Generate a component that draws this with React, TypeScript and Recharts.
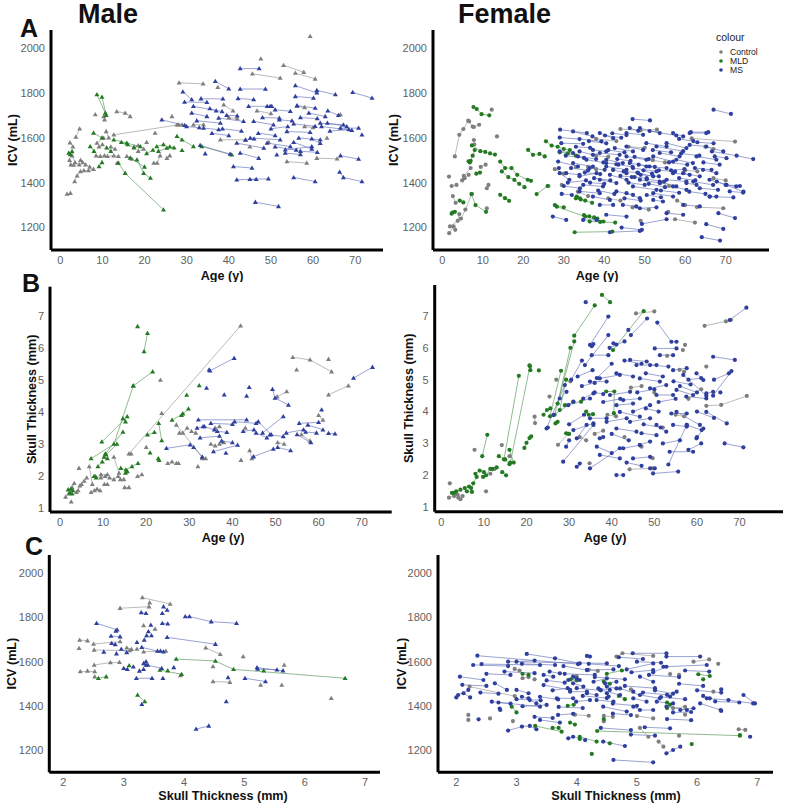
import React from 'react';
import { ComposedChart, Line, XAxis, YAxis } from 'recharts';

// each subject: [x1, y1, x2, y2, ...] – consecutive visits are joined by a line
type Subject = number[];

// ---------- Panel A: age vs ICV ----------
const maleAgeIcvCtrl: Subject[] = [
  [59.3, 2052], [47.6, 1952], [53, 1923, 57.8, 1892], [55.8, 1888, 60.5, 1862], [45.6, 1885, 52.2, 1866],
  [28.2, 1845, 33.9, 1840], [37.4, 1825], [38.8, 1747, 41, 1720], [46.7, 1720, 50, 1708], [26.5, 1695],
  [27.7, 1658, 28.9, 1658], [31.6, 1658, 34, 1658], [38, 1591, 43.9, 1591], [53.8, 1494, 58.5, 1487],
  [60.9, 1509, 65.7, 1506], [66.5, 1703], [63.3, 1599], [56.2, 1740, 58, 1735], [45, 1560], [49.5, 1580],
  [40, 1690, 42, 1685], [58, 1650, 60, 1645],
  [1.6, 1349, 2.4, 1353], [2.3, 1578, 3, 1560], [2.8, 1520, 3.5, 1490, 4.5, 1480], [2.2, 1500, 2.5, 1480, 3.2, 1478],
  [3.4, 1405, 4, 1430, 4.8, 1450], [3.7, 1603, 4.6, 1640], [4.8, 1500, 5.3, 1490], [5.6, 1454, 6.7, 1454, 7.9, 1460],
  [8.5, 1520, 9.5, 1517, 10.5, 1520], [8.7, 1576, 10.3, 1599], [9.2, 1560, 10, 1570], [10.9, 1628, 11.5, 1600],
  [11.2, 1517, 12.7, 1520, 13.8, 1517], [12.7, 1613, 28.1, 1658], [8.3, 1703], [13.4, 1717, 15.4, 1710, 16.6, 1695],
  [10.3, 1695, 10.5, 1680], [13.5, 1487], [15.8, 1517, 17, 1505], [18.5, 1540, 19.8, 1550], [20.5, 1580],
  [22.2, 1487, 23, 1487, 23.7, 1520], [22.5, 1621], [25.3, 1509, 26, 1520], [6, 1480, 7, 1470],
  [12, 1560, 13, 1550], [17.5, 1560, 18.5, 1565],
];
const maleAgeIcvMld: Subject[] = [
  [8.7, 1792, 10.7, 1710], [9.9, 1781, 10.9, 1700], [2, 1532, 2.8, 1539], [2.4, 1525], [7.9, 1621, 9.9, 1600],
  [7.1, 1561, 8, 1540], [9.2, 1472, 9.9, 1490], [12.7, 1591, 15.8, 1576, 19, 1561],
  [13.8, 1487, 15.4, 1442, 24.5, 1279], [18.2, 1502, 19.8, 1442, 21.4, 1420], [16.6, 1510, 20, 1470],
  [22.9, 1561, 24.5, 1570], [23.3, 1540, 25.3, 1554], [27.7, 1606, 28.9, 1591, 31.6, 1561], [28.9, 1544],
  [33.6, 1561, 40.7, 1524], [14.5, 1580, 16, 1570, 17.5, 1555], [11, 1555, 12, 1540], [20.5, 1530, 22, 1545],
  [26, 1560, 27, 1555],
];
const maleAgeIcvMs: Subject[] = [
  [42.7, 1908, 47.2, 1908], [36.8, 1851, 40, 1818], [42.7, 1817, 48.7, 1817], [55.8, 1832, 60.9, 1800],
  [60.9, 1811, 65.3, 1792], [69.4, 1802, 74, 1777], [29.1, 1805, 31.2, 1770], [33.4, 1774, 38.6, 1773],
  [29.5, 1759, 34.8, 1758], [42.2, 1775, 45.9, 1770], [55.8, 1784, 60.1, 1777], [31.2, 1710, 34.8, 1695],
  [49.1, 1740, 50.2, 1740], [31.6, 1740, 38.4, 1717], [56.2, 1743, 60.5, 1732], [44.7, 1740, 49.8, 1740],
  [37.6, 1688, 43.5, 1673], [51, 1725, 54.6, 1718], [59, 1710, 62.9, 1695], [61.7, 1665, 67.2, 1658],
  [63.4, 1665, 68, 1650], [66.5, 1643, 70.8, 1643], [45.9, 1673, 50.6, 1658], [55.4, 1662, 60.5, 1651],
  [32.4, 1676, 38, 1665], [24.1, 1680, 29.5, 1655], [34, 1643, 37.6, 1636], [62, 1650, 69.2, 1633], [71.6, 1613],
  [53.8, 1628, 59.3, 1624], [56.6, 1599, 61.7, 1591], [45.1, 1599, 52.2, 1591], [41.9, 1576, 48.3, 1554],
  [33.2, 1566, 40.3, 1527], [34.4, 1529], [49.1, 1576, 54.6, 1561], [53.4, 1546, 59.7, 1561],
  [42.7, 1532, 47.1, 1509], [55.4, 1580, 59.7, 1550], [59.7, 1595, 61.7, 1575], [41.1, 1472, 45.5, 1465],
  [41.9, 1413, 49.4, 1417], [45, 1415, 46.5, 1415], [55.4, 1423, 60.5, 1405], [66.3, 1447, 67.2, 1423, 71.6, 1405],
  [66.5, 1520, 70.8, 1505], [46.3, 1313, 51.8, 1294], [51.4, 1524], [53.4, 1532, 57, 1525], [47, 1620, 51, 1610],
  [36, 1620, 40, 1610], [30, 1650, 33, 1645], [52, 1680, 55, 1675], [57, 1690, 61, 1685], [48, 1690, 52, 1688],
  [39.5, 1700, 42, 1698], [35.5, 1730, 37, 1720], [63.5, 1720, 66, 1700], [51, 1560, 56, 1545],
  [57, 1540, 61, 1535], [44, 1590, 46, 1595], [38.5, 1640, 43, 1630], [50, 1640, 54, 1650], [64, 1630, 68.5, 1636],
];

const femaleAgeIcvCtrl: Subject[] = [
  [1.7, 1175, 2.8, 1205], [1.9, 1205, 3.8, 1230, 4.2, 1260], [3.1, 1517, 4.2, 1613, 5.2, 1639, 6.4, 1676],
  [7.8, 1648, 9.1, 1658], [6.6, 1673, 7.5, 1650], [12.2, 1725], [1.65, 1427], [2.3, 1385, 3.5, 1390],
  [4.9, 1410, 5.3, 1430, 7, 1465], [13.5, 1606], [11, 1375, 11.4, 1390], [11, 1286], [2.6, 1340, 3.3, 1310],
  [3.2, 1190], [4.6, 1240, 5.7, 1280, 7.3, 1350], [5.5, 1420, 6.5, 1435], [7.8, 1590, 7.9, 1570],
  [9.5, 1470, 10.7, 1480], [26.2, 1385], [27.8, 1460, 30, 1440], [29.5, 1390], [33, 1470],
  [38, 1595, 43, 1585], [44, 1639, 49, 1633, 53, 1636], [57.5, 1237, 62.4, 1222], [61.6, 1597, 72.3, 1583],
  [62.9, 1291, 69.4, 1286], [55.8, 1270], [46, 1560, 50, 1555], [38, 1520, 41, 1515], [54, 1400, 56, 1385],
  [58, 1320, 60, 1300], [47, 1290, 51, 1280], [67, 1420, 70, 1410], [65, 1560, 67, 1550], [36, 1470, 38, 1460],
  [52, 1500, 55, 1490], [41, 1330, 44, 1320], [49, 1230], [33.5, 1360, 36, 1340], [60, 1455, 63, 1450],
];
const femaleAgeIcvMld: Subject[] = [
  [7.7, 1737, 8.5, 1728, 9.7, 1705, 11.6, 1700], [7.3, 1566, 9.4, 1540, 10.6, 1537, 11.8, 1530, 13, 1525],
  [14.3, 1494, 15.5, 1465, 17.1, 1465, 18.5, 1435, 21.1, 1413, 21.9, 1408],
  [14.7, 1450, 16.3, 1425, 17.8, 1412, 19, 1395, 20.3, 1380], [14.3, 1346, 15.5, 1331, 16.5, 1319],
  [7.2, 1349, 8.2, 1300, 10.8, 1270], [2.5, 1267, 3.1, 1270], [7, 1497, 7.5, 1520, 8, 1545], [6.5, 1495, 6.8, 1490],
  [8.4, 1440, 9.3, 1445], [2.3, 1262], [4.3, 1320, 5.2, 1312], [23.3, 1349, 26, 1385],
  [21.2, 1546, 22.4, 1524, 24, 1528, 25.3, 1517], [25.6, 1584, 27, 1565, 28.5, 1560, 30, 1550, 31.5, 1545],
  [29, 1535, 31, 1530, 33, 1520], [33, 1330, 34.2, 1325, 35.3, 1320, 37, 1310],
  [35, 1255, 36.3, 1250, 37.5, 1245, 38.3, 1240, 39, 1225], [28.3, 1293, 35.3, 1249, 39.8, 1227],
  [36.4, 1227, 42.7, 1222], [32.7, 1179, 42, 1182], [27.8, 1300, 30, 1290], [33.2, 1338, 34, 1330], [42.2, 1457],
];
const femaleAgeIcvMs: Subject[] = [
  [67, 1725, 71.3, 1706], [47, 1683, 51.3, 1677], [64.1, 1157, 68.6, 1142], [65.2, 1215, 69.4, 1194],
  [68.2, 1264, 72.3, 1242], [41.4, 1179, 48.8, 1185], [44.3, 1200, 49.3, 1190], [49.3, 1216, 55.4, 1237],
  [29.1, 1636, 35.7, 1621], [61.4, 1625, 65.7, 1625], [66.6, 1539, 72.7, 1520, 76.8, 1505], [67.8, 1405, 74.4, 1360],
  [66.1, 1338, 71.9, 1334], [29, 1601, 33.9, 1594, 39.3, 1584], [29.4, 1576, 34.8, 1573], [32.3, 1628, 37.1, 1606],
  [38.9, 1621, 42.2, 1598], [45.5, 1621, 49.6, 1613], [46.3, 1643, 48.4, 1631], [48.8, 1643, 53.7, 1621],
  [51.2, 1630, 57.8, 1610], [57, 1621, 59.5, 1606], [61.1, 1621, 65.2, 1621], [50.4, 1576, 55.4, 1561],
  [52.9, 1561, 59.5, 1540], [55.4, 1576, 60.3, 1554], [61.1, 1568, 65.2, 1561, 69.4, 1539],
  [62.8, 1517, 67.7, 1502], [64.4, 1457, 67.7, 1442], [66, 1413, 70.2, 1390, 72.6, 1383], [71, 1361, 74.3, 1356],
  [63.6, 1375, 68.1, 1368], [66, 1338, 67.7, 1338], [59.5, 1442, 63.6, 1428], [60.3, 1398, 62.8, 1390],
  [57, 1383, 60.3, 1368], [53.7, 1405, 57.8, 1383], [52.1, 1353, 57, 1338], [52.1, 1323, 54.5, 1316],
  [47.1, 1383, 52.9, 1368], [45.5, 1353, 48.8, 1331], [44.6, 1301, 47.9, 1294], [38.9, 1301, 42.2, 1301],
  [37.2, 1338, 41.4, 1323], [33.9, 1361, 38.9, 1353], [34.8, 1390, 39.7, 1383], [33.9, 1428, 38.1, 1442],
  [32.3, 1487, 37.2, 1472], [33.5, 1517, 38, 1505], [28.6, 1494, 33.5, 1472], [29, 1539, 32.3, 1532],
  [38.9, 1532, 43.8, 1524], [40.5, 1502, 44.6, 1487], [40.5, 1472, 45.5, 1457], [42.2, 1457, 45.5, 1442],
  [41.4, 1435, 45.5, 1413], [38.9, 1413, 43, 1398], [45.5, 1517, 50.4, 1502], [46.3, 1487, 51.2, 1472],
  [47.1, 1465, 52.9, 1450], [48.4, 1442, 52.1, 1428], [48.8, 1413, 53.7, 1398], [50.4, 1472, 55.4, 1465],
  [52.1, 1517, 57, 1494], [53.7, 1532, 58.6, 1517], [57.8, 1502, 61.9, 1487], [57, 1442, 61.1, 1435],
  [55.4, 1413, 60.3, 1405], [62, 1405, 66.9, 1390], [67.3, 1517, 70.2, 1509], [45.5, 1561, 49.6, 1546],
  [42.6, 1554, 47.1, 1539], [37.2, 1546, 40.5, 1539], [33.9, 1539, 37.2, 1524], [35.6, 1502, 40.5, 1487],
  [30.6, 1442, 33.9, 1435], [29, 1442, 31.4, 1413], [36.4, 1465, 40.1, 1457], [43, 1361, 47.1, 1346],
  [48.8, 1286, 52.9, 1290], [40.5, 1257, 45.5, 1249], [34.8, 1234, 38.1, 1234], [27.3, 1249, 30.6, 1234],
  [59.5, 1301, 63.6, 1294], [62.4, 1465, 66.5, 1457], [55.4, 1264, 59.5, 1257], [43.5, 1480, 47, 1470],
  [44.8, 1450, 48.2, 1445], [49.7, 1455, 51.8, 1440], [46.8, 1425, 50.5, 1420], [36.5, 1400, 40, 1395],
  [51, 1395, 55, 1380], [56.5, 1455, 59.8, 1460], [58.5, 1595, 62, 1585], [40.2, 1610, 44.2, 1600],
  [31, 1400, 35.5, 1410], [29.5, 1350, 32, 1345], [70, 1390, 73.5, 1385],
  [30.5, 1520, 35, 1510], [31.8, 1465, 36, 1455], [35.2, 1445, 39, 1438], [37.5, 1420, 41.5, 1410],
  [39.8, 1490, 43, 1482], [41, 1545, 45, 1535], [43.2, 1505, 46.5, 1497], [44, 1430, 47.5, 1425],
  [46, 1400, 50, 1390], [47.5, 1515, 51, 1505], [48.5, 1480, 52.5, 1470], [49, 1435, 53.5, 1428],
  [50.5, 1415, 54.8, 1405], [52, 1545, 56.5, 1535], [53.5, 1455, 57.5, 1450], [54, 1365, 58.5, 1355],
  [56, 1490, 60.5, 1480], [58.5, 1420, 62.5, 1410], [59, 1530, 63.5, 1520], [61, 1360, 65, 1350],
  [63, 1580, 67, 1575], [64.5, 1490, 68.5, 1480], [36.2, 1585, 40.5, 1575], [33, 1560, 36.5, 1555],
  [42, 1620, 45.5, 1612], [28.8, 1465], [30, 1385, 34, 1375], [38.5, 1365, 42.5, 1350], [45, 1330, 49, 1320],
  [50.5, 1345, 54, 1335],
];

// ---------- Panel B: age vs skull thickness ----------
const maleAgeThkCtrl: Subject[] = [
  [1.3, 1.35, 2, 1.45], [2.6, 1.2], [2.8, 1.65, 3.3, 1.78], [3.8, 1.5, 4.2, 1.55, 4.6, 1.7], [4.4, 2.25],
  [5, 1.75, 5.6, 1.85, 6.2, 1.95], [6.8, 2.3, 7.5, 1.75], [7.2, 1.5, 8, 1.55], [8.2, 2, 9.5, 1.95, 10.5, 2],
  [8.6, 1.6, 9.3, 1.55], [9.5, 2.05, 11, 2.05], [10.3, 1.75, 11, 1.75], [11.5, 1.95, 12.5, 1.9, 13.5, 2],
  [12.5, 2.6, 13.7, 2.1], [14, 1.9, 14.8, 1.9], [15, 1.65, 16, 1.65], [16.5, 2.7], [18, 2, 19, 2.05], [20, 2.9],
  [23.3, 5], [23.6, 3.96], [25, 2.4, 26, 2.45], [27.7, 3.35, 28.5, 3.35, 29.5, 3.5], [27, 2.4, 27.5, 2.4], [32, 2.3],
  [33, 2.55, 33.8, 2.55], [16, 2.7, 41.9, 6.69], [35, 3, 36, 2.95], [42, 2.5], [44, 2.8, 44.5, 2.55],
  [37, 3, 38, 3.05], [54, 5.71, 58, 5.63, 63, 5.26], [62.3, 5.65], [54.9, 5.32], [62.3, 4.54, 66.9, 4.82],
  [50.4, 4.48, 52.6, 4.64], [56, 3.3, 58, 3.1], [60, 3.9, 61, 3.75], [50.5, 3.05, 52, 3], [43, 3.5],
  [36, 3.5, 37, 3.55], [30.5, 3.4, 31.5, 3.35], [27, 3.6, 33, 2.6],
];
const maleAgeThkMld: Subject[] = [
  [18, 6.67], [19.5, 5.89, 20.3, 6.46], [17, 4.82, 21.5, 5.26], [7.2, 2.55, 12.5, 3, 17, 4.82],
  [9.7, 3.07, 15.6, 3.86], [10.5, 2.7, 14.6, 3.38], [10.7, 2.67, 13.2, 3], [14.6, 3.8, 15.2, 3.7],
  [20.3, 3.29, 21.9, 3.37], [20.9, 2.73], [22.9, 3.65, 23.6, 3.11], [22.8, 2.55, 23, 2.5], [28.2, 3.9, 29.8, 4.1],
  [29.4, 4.53], [32.3, 4.83], [26, 3.75, 28.5, 3.95], [14.1, 2.25, 15.3, 2.2, 16.7, 2.3, 18.1, 2.4],
  [15.2, 2.1, 15.6, 2.15], [8.8, 2.3, 9.8, 2.45], [10.2, 2.6, 11, 2.55], [1.9, 1.58, 2.5, 1.6, 3, 1.55],
  [2.3, 1.48, 2.8, 1.45], [7.9, 2, 8.4, 1.95],
];
const maleAgeThkMs: Subject[] = [
  [34.8, 5.29, 40.4, 5.68], [34.6, 5.32], [34, 4.75], [38.1, 4.54], [43.9, 4.77], [43.3, 4.5],
  [49.3, 4.71, 49.9, 4.44, 53, 4.22], [32.1, 3.76, 43.3, 3.76], [33.5, 3.55, 35.8, 3.45], [35, 3.65, 40, 3.62],
  [36.5, 3.4, 38.7, 3.37], [32.5, 3.2, 37, 3.25], [24.7, 2.87, 30.2, 2.98], [35.6, 2.77, 41.2, 2.97], [38.5, 2.72],
  [44.9, 2.61, 49.5, 2.85], [47, 3.35, 51.8, 3.86], [52.5, 3.35, 56.5, 3.45], [50.5, 2.9, 53.5, 2.8], [60.7, 4.07],
  [62.3, 3.34, 63.8, 3.32], [55.5, 3.65, 60, 3.68], [57, 3.38, 59.5, 3.35], [68.1, 5.06, 72.5, 5.4],
  [46, 3.7, 49, 3.3], [48.7, 3.29, 51.8, 3.24], [42.5, 3.4, 45, 3.45], [55, 3.3, 58.2, 3.05], [37.5, 3.1, 40, 3.05],
  [31, 2.9, 33, 2.6], [45.5, 3.35, 48, 3.2], [40.5, 3.7, 45.5, 3.65], [31.8, 3.5, 33.2, 3.55], [57.5, 3.6, 61, 3.45],
];

const femaleAgeThkCtrl: Subject[] = [
  [61.8, 6.69, 66.8, 6.83], [68, 6.88], [45.7, 7.08, 50, 7.14], [57.2, 6.09], [56.7, 5.93],
  [62.2, 4.18, 65.7, 4.21, 71.7, 4.49], [27, 5], [25.4, 4.47], [21.9, 3.84, 22, 3.64], [27.4, 2.96, 29.8, 3.3],
  [34.8, 2.38], [49.6, 2.54], [44.2, 2.19, 49.6, 2.22], [62.2, 5.41], [55.9, 5.31, 57, 5.25], [2, 1.75],
  [1.8, 1.3, 3, 1.35, 4, 1.3], [4.5, 1.25], [3.8, 1.4, 5, 1.35], [7.8, 2.8], [10.5, 1.5], [14.2, 2.95],
  [11.5, 2.05, 12.5, 2.2], [16, 2.6], [39, 3.9, 41, 3.85], [36, 3.3, 38, 3.4], [44.5, 4.75, 47, 4.8],
  [58, 4.4, 61, 4.7], [52, 3.5], [32.5, 3.2, 34, 3.1], [43, 3.2], [55, 3.9, 57, 3.85], [50, 4.6], [30.3, 4.95],
  [47, 2.9], [53, 5.75],
];
const femaleAgeThkMld: Subject[] = [
  [31.2, 6.38, 36, 7.33], [37.7, 7.66, 39.6, 7.43], [26.6, 3.9, 31.2, 6.2], [27.3, 4.25, 30.3, 6],
  [25.5, 3.85, 28.1, 5.28], [27.8, 4.05, 29.3, 5], [40.3, 5.93, 47.5, 7.15], [22.9, 5.29], [20.7, 5.45, 20.9, 5.3],
  [14.7, 2.5, 18.2, 5.12], [16.2, 2.4, 20.8, 5.42], [9.6, 2.6, 10.8, 3.27], [19.5, 2.86, 20, 3.02, 20.7, 3.17, 21.1, 3.22],
  [24, 3.9, 24.8, 4.05, 25.6, 4.1], [26.8, 3.63, 27.3, 3.68], [34.6, 3.9, 35.6, 3.92], [38.7, 4.63, 40.6, 4.63, 40.5, 3.95],
  [29.3, 3.32, 30, 3.3], [32.8, 4.31], [34, 4], [29, 4.2, 31, 4.3], [13.5, 2.6, 15, 2.5, 16, 2.35], [12, 2.2, 13, 2.25],
  [14.3, 2.1, 15.2, 2], [8, 2.05, 9, 2.15, 10, 2.1], [7, 1.6, 7.5, 1.75, 8.3, 1.95], [5.5, 1.6, 6.5, 1.65],
  [3.5, 1.5, 4.5, 1.55], [2.5, 1.45, 3, 1.45], [9.8, 1.95, 10.5, 2, 11.5, 2.2], [16, 2.8, 17, 2.4], [6, 1.5, 7.2, 1.48],
];
const femaleAgeThkMs: Subject[] = [
  [33.9, 7.43], [34.9, 6.09, 39.2, 6.98], [67.7, 6.87, 71.6, 7.26], [44.5, 6.4, 48.3, 6.92], [50.7, 6.79, 54, 6.19, 55.2, 6.19],
  [43.9, 6.56], [35.3, 6.05, 35.7, 6.12], [33.7, 5.46, 39.2, 6.4], [40.4, 6.14, 41.1, 6.1], [50.1, 5.98, 55.2, 5.98],
  [51.3, 5.77, 54.4, 5.77], [35.3, 5.77, 39.2, 5.77], [63.8, 5.72, 68.9, 5.62], [63.8, 4.5, 68.1, 5.27],
  [44.3, 5.62, 48.2, 5.57], [45.8, 5.46, 50.5, 5.46], [49, 5.46, 53.3, 5.41], [54.4, 5.3, 57.6, 5.36],
  [59.9, 5.2, 61.5, 4.99], [41.1, 5.2, 45, 5.1], [37.2, 5.04, 41.9, 5.15], [34.9, 4.94, 38.8, 4.94],
  [56.8, 5.15, 62.2, 4.5], [46.6, 5.04, 51.3, 4.94], [49, 4.73, 52.8, 4.83], [39.6, 4.52, 44.3, 4.62],
  [33.3, 4.41, 35.7, 4.57], [55.2, 4.68, 59.1, 4.52], [57.5, 4.47, 62.2, 4.41], [62.2, 4.57, 63.8, 4.62],
  [27.8, 4.41, 29.4, 4.62], [26.3, 3.89, 31, 4.31], [24.7, 3.47, 29, 4.83], [29.8, 4.2, 34.9, 4.41],
  [42.7, 4.36, 46.6, 4.41], [50.5, 4.52, 54.4, 4.52], [54, 3.94, 57.6, 3.94], [55.2, 3.99, 60.7, 3.58],
  [62.2, 3.99, 67, 3.63], [41.1, 4.2, 45, 4.25], [41.9, 3.99, 46.6, 3.84], [38.8, 3.68, 43.5, 3.79],
  [34.9, 3.79, 38.8, 3.79], [31.8, 3.16, 34.1, 3.58], [31, 3.42, 35.7, 3.63], [41.1, 3.47, 45.8, 3.37],
  [44.3, 3.68, 49, 3.79], [47, 3.32, 50.5, 3.26], [50.5, 3.58, 52.8, 3.37], [54.4, 3.58, 57.6, 3.53],
  [57.6, 3.58, 61.1, 3.42], [59.9, 3.16, 61.5, 3.47], [53.6, 2.74, 59.1, 2.74], [53.3, 2.34, 57.6, 3.58],
  [66.5, 3, 70.9, 2.88], [28.6, 2.43, 35.7, 3.58], [31.8, 2.27, 32.5, 2.37], [34.9, 2.22, 41.9, 2.85],
  [37.2, 2.64, 41.9, 2.53], [41.1, 2.01, 42.7, 2.01], [49.7, 2.06, 55.6, 2.12], [49, 2.22, 50.1, 2.22],
  [45, 2.53, 49, 2.58], [42.7, 2.85, 46.6, 2.95], [46.6, 2.95, 49, 3.06], [37.2, 3.16, 38, 3.2], [25, 3.5],
  [29.3, 2.9, 30, 3.1], [36, 4.6, 38, 4.55], [48, 4.1, 51, 4], [58, 5, 61, 5.05], [65.5, 4.6], [60, 3.2],
  [30.5, 5, 33, 5.6], [36.5, 5.05, 40, 5.5],
  [30, 3.6, 33.5, 3.9], [32, 5.1, 35.5, 5.3], [38, 4.3, 42, 4.4], [40, 3.3, 44, 3.1], [43, 5.6, 47, 5.5],
  [45, 4, 49, 4.2], [47.5, 3.6, 51.5, 3.5], [48, 5.2, 52, 5.1], [51, 4.3, 55, 4.4], [52, 3, 56, 3.1],
  [56, 4.8, 60, 4.6], [58, 2.8, 61, 3], [60, 4, 64, 3.8], [64, 5, 67.5, 5.2], [36.5, 2.9, 40, 2.7],
  [43.5, 2.4, 47, 2.3], [39.5, 6, 43, 6.2], [33, 4.8, 36, 4.9], [46, 4.6, 50, 4.7], [54.5, 4.95, 58.5, 4.85],
];

// ---------- Panel C: skull thickness vs ICV ----------
const maleThkIcvCtrl: Subject[] = [
  [3.31, 1890, 3.77, 1861], [3.43, 1867], [2.94, 1842, 3.42, 1849], [3.33, 1763], [3.52, 1748],
  [2.27, 1698, 2.4, 1695], [2.5, 1680, 2.94, 1691], [2.26, 1660], [2.51, 1653, 3.1, 1650], [3.05, 1663, 3.13, 1656],
  [3.22, 1657], [3.33, 1645, 3.7, 1648], [4.36, 1663, 4.6, 1633], [4.98, 1623], [2.51, 1585, 2.78, 1596, 2.93, 1597],
  [2.28, 1555, 2.52, 1555], [2.4, 1558], [2.52, 1532], [4.48, 1578], [3.94, 1537], [4.48, 1510, 4.76, 1507],
  [5.27, 1494], [5.62, 1494], [5.66, 1585], [6.44, 1434],
];
const maleThkIcvMld: Subject[] = [
  [3.87, 1612, 4.52, 1603, 4.82, 1565, 6.67, 1525], [3.6, 1562, 3.96, 1543], [3.09, 1582], [2.58, 1525, 2.71, 1532],
  [3.23, 1449, 3.35, 1419], [5.32, 1559], [3.73, 1559],
];
const maleThkIcvMs: Subject[] = [
  [3.66, 1849, 3.72, 1834], [3.29, 1822, 3.37, 1819], [3.64, 1819], [4.02, 1804, 4.09, 1804, 4.45, 1781, 4.87, 1774],
  [2.55, 1774, 2.89, 1744], [3.64, 1774, 3.73, 1771], [3.45, 1766], [2.79, 1716, 2.94, 1713], [3.41, 1736],
  [3.34, 1698, 3.38, 1718], [3.46, 1718], [2.87, 1739], [3.72, 1710, 4.52, 1679], [2.8, 1683, 2.86, 1678],
  [3.22, 1688], [2.96, 1657, 3.05, 1641], [2.88, 1636], [2.67, 1644], [3.3, 1665, 3.56, 1648], [3.61, 1648, 3.66, 1645],
  [3.37, 1600], [3.33, 1592, 3.4, 1585], [3.37, 1585, 3.63, 1570], [3, 1570, 3.06, 1565], [3.16, 1577],
  [3.26, 1558, 3.33, 1565], [3.21, 1525, 3.47, 1525], [3.65, 1525], [3.83, 1573], [4.7, 1419], [4.2, 1295, 4.41, 1309],
  [3.3, 1407], [5.21, 1573, 5.64, 1559], [5.22, 1566, 5.54, 1563], [5.01, 1525, 5.35, 1510], [4.73, 1528],
];

const femaleThkIcvCtrl: Subject[] = [
  [2.2, 1359], [2.2, 1336], [2.94, 1331], [4.66, 1623, 4.76, 1638, 5.27, 1626], [5.55, 1544], [5.94, 1600, 6.2, 1610],
  [6.27, 1464], [5.05, 1300, 5.19, 1260], [5.36, 1238, 5.44, 1215], [6.69, 1294, 6.8, 1291], [2.56, 1343],
  [2.22, 1487, 2.97, 1444], [3.1, 1525, 3.2, 1530], [3.97, 1360, 4.2, 1355], [4.45, 1355, 4.6, 1350],
  [5.0, 1354, 5.27, 1343], [5.6, 1390, 5.8, 1395], [4.2, 1563, 4.35, 1558], [5.7, 1540], [2.97, 1567, 3.05, 1560],
  [3.3, 1520], [4.45, 1330], [5.7, 1265], [4.0, 1535], [5.8, 1360], [4.9, 1475], [6.35, 1590],
];
const femaleThkIcvMld: Subject[] = [
  [6.02, 1543, 6.21, 1535], [6.71, 1268], [5.91, 1227], [4.25, 1182], [3.31, 1309, 3.75, 1283], [4.05, 1260, 4.33, 1238],
  [2.92, 1396, 3, 1370], [3.89, 1324, 3.97, 1315], [4.34, 1286, 6.71, 1265], [4.5, 1545, 4.75, 1560], [3.1, 1545, 3.2, 1540],
  [3.9, 1520, 4, 1515], [4.45, 1510, 4.55, 1500], [4.7, 1445, 4.8, 1430], [5.5, 1415, 5.55, 1405], [5.5, 1390],
  [3.85, 1400, 3.95, 1405], [4.45, 1340], [3.6, 1300, 3.7, 1300], [4.05, 1250], [4.55, 1230], [6.1, 1520],
];
const femaleThkIcvMs: Subject[] = [
  [2.35, 1627, 4.02, 1589], [3.17, 1635, 3.64, 1615, 4.05, 1592], [4.17, 1626, 4.22, 1623], [2.86, 1600, 4.5, 1592],
  [2.28, 1585, 2.86, 1580], [2.42, 1589, 3.39, 1585], [3.09, 1590, 3.64, 1585], [4.93, 1638, 5.49, 1638],
  [5.49, 1623, 6.05, 1623], [4.83, 1565, 5.27, 1592], [4.91, 1552, 5.27, 1562], [4.17, 1562, 4.61, 1565],
  [5.27, 1552, 5.49, 1577], [5.44, 1577, 6.16, 1585], [3.78, 1580, 4.17, 1562], [2.06, 1532, 2.45, 1517],
  [2.2, 1472, 2.03, 1449, 2, 1438], [2.12, 1457, 2.23, 1438], [2.64, 1502, 2.84, 1472], [3, 1472, 3.2, 1457],
  [3.45, 1494, 3.89, 1472], [2.59, 1419, 3.39, 1396], [2.73, 1381, 2.72, 1388], [2.37, 1339],
  [2.86, 1288, 3.09, 1306, 3.22, 1309, 3.33, 1294], [3.39, 1336, 3.72, 1324], [3.86, 1253, 3.94, 1260, 4.14, 1245],
  [4.44, 1238, 4.8, 1218], [4.61, 1155, 5.27, 1144], [5.49, 1185, 5.6, 1200, 5.72, 1215], [6.05, 1411, 6.39, 1381],
  [6.16, 1434, 6.52, 1426, 6.93, 1411], [6.77, 1449, 6.96, 1411], [6.1, 1445, 6.21, 1434], [5.66, 1464, 5.55, 1442],
  [4.94, 1396, 5.05, 1381, 5.27, 1381], [5.33, 1419, 5.6, 1411], [5.49, 1396, 5.83, 1381], [5.72, 1381, 5.94, 1389],
  [4.44, 1396, 4.83, 1374], [4.33, 1426, 4.61, 1419], [3.99, 1419, 4.22, 1426], [4.39, 1472, 4.72, 1449],
  [4.5, 1457, 4.53, 1442], [4.47, 1502, 4.66, 1509], [4.72, 1479, 5.05, 1449, 5.38, 1434], [4.17, 1457, 4.33, 1449],
  [3.89, 1464, 4.17, 1464], [3.67, 1434, 3.94, 1434], [3.39, 1441, 3.69, 1429], [3.22, 1426, 3.33, 1411],
  [3.09, 1441, 3.2, 1434], [5.05, 1532, 5.27, 1509], [4.28, 1509, 4.5, 1524], [4.36, 1479, 4.55, 1472],
  [3.94, 1502, 4.11, 1487], [4.5, 1487, 4.66, 1479], [3.55, 1555, 3.72, 1547], [3.45, 1540, 3.61, 1532],
  [3.94, 1532, 4.05, 1517], [3.86, 1517, 4, 1524], [4.94, 1464], [4.94, 1434, 5.16, 1419], [6.88, 1260],
  [5.13, 1303, 5.55, 1298], [3.69, 1359, 3.94, 1364], [6.4, 1475], [6.4, 1377], [2.7, 1415, 2.9, 1410],
  [3.1, 1398, 3.5, 1404], [4.6, 1365, 4.9, 1358], [5.6, 1370, 5.9, 1372], [3.6, 1470, 3.85, 1480], [5.3, 1470, 5.6, 1455],
  [2.1, 1495, 2.5, 1490], [2.5, 1545, 2.9, 1540], [2.8, 1555, 3.3, 1548], [3, 1430, 3.4, 1425], [3.5, 1515, 3.8, 1505],
  [3.7, 1395, 4.1, 1390], [3.8, 1545, 4.3, 1540], [4, 1480, 4.4, 1470], [4.1, 1445, 4.5, 1435], [4.2, 1590, 4.7, 1580],
  [4.3, 1530, 4.8, 1520], [4.6, 1410, 5, 1400], [4.8, 1490, 5.3, 1480], [5, 1600, 5.4, 1595], [5.1, 1460, 5.5, 1450],
  [5.2, 1540, 5.7, 1530], [5.4, 1440, 5.8, 1430], [5.7, 1500, 6.1, 1490], [5.8, 1560, 6.2, 1555], [6, 1470, 6.4, 1460],
  [3.3, 1350, 3.6, 1345], [4.4, 1300, 4.9, 1290], [4.9, 1270, 5.3, 1265], [5.5, 1340, 5.9, 1335], [3, 1600, 3.3, 1605],
  [2.4, 1460, 2.7, 1455], [6.3, 1420, 6.7, 1415], [4.7, 1620, 5.1, 1612],
];

const AGE_TICKS = [0, 10, 20, 30, 40, 50, 60, 70];
const ICV_TICKS = [1200, 1400, 1600, 1800, 2000];
const THK_TICKS = [1, 2, 3, 4, 5, 6, 7];
const THK_X_TICKS = [2, 3, 4, 5, 6, 7];

const DOT = { ctrl: '#7f7f7f', mld: '#237a23', ms: '#2f3f9e' };
const LINK = { ctrl: '#9a9a9a', mld: '#5c9a5c', ms: '#6b76bd' };
const FONT = '"Liberation Sans", Arial, sans-serif';

function toLine(subjects: Subject[]) {
  const out: { x: number; y: number | null }[] = [];
  subjects.forEach((s) => {
    for (let i = 0; i < s.length; i += 2) out.push({ x: s[i], y: s[i + 1] });
    out.push({ x: s[s.length - 2], y: null });
  });
  return out;
}

const makeDot = (color: string, shape: 'tri' | 'circle') => (p: any) => {
  const key = p.key ?? `d-${p.index}`;
  if (p.cy == null || p.cx == null || p.payload?.y == null) return <g key={key} />;
  const { cx, cy } = p;
  if (shape === 'circle') return <circle key={key} cx={cx} cy={cy} r={2.1} fill={color} />;
  return <path key={key} d={`M${cx},${cy - 2.6}L${cx + 2.5},${cy + 1.7}L${cx - 2.5},${cy + 1.7}Z`} fill={color} />;
};

// recharts hands its own x/y to a label element, so the wanted position goes in px/py
const YTitle = ({ px, py, text }: any) => (
  <text x={px} y={py} transform={`rotate(-90 ${px} ${py})`} textAnchor="middle" dominantBaseline="central"
    fontFamily={FONT} fontWeight="bold" fontSize={12.6} fill="#111">{text}</text>
);
const XTitle = ({ px, py, text }: any) => (
  <text x={px} y={py} textAnchor="middle" dominantBaseline="central"
    fontFamily={FONT} fontWeight="bold" fontSize={12.6} fill="#111">{text}</text>
);

interface PanelProps {
  left: number; top: number; width: number; height: number;
  mTop: number; mRight: number; yWidth: number; xHeight: number;
  xDomain: number[]; yDomain: number[]; xTicks: number[]; yTicks: number[];
  ctrl: Subject[]; mld: Subject[]; ms: Subject[];
  shape: 'tri' | 'circle';
  xTitle: string; yTitle: string; xTitleX: number; xTitleY: number; yTitleX: number;
}

function Panel(p: PanelProps) {
  const plotH = p.height - p.mTop - p.xHeight;
  const tick = { fontSize: 11, fill: '#5f5f5f', fontFamily: FONT };
  const series = [
    { d: p.ctrl, c: 'ctrl' as const },
    { d: p.mld, c: 'mld' as const },
    { d: p.ms, c: 'ms' as const },
  ];
  return (
    <div style={{ position: 'absolute', left: p.left, top: p.top }}>
      <ComposedChart width={p.width} height={p.height}
        margin={{ top: p.mTop, right: p.mRight, bottom: 0, left: 0 }}>
        <XAxis type="number" dataKey="x" domain={p.xDomain} ticks={p.xTicks} allowDataOverflow
          height={p.xHeight} tickLine={false} tickSize={4} tickMargin={2} tick={tick}
          axisLine={{ stroke: '#000', strokeWidth: 3 }}
          label={<XTitle px={p.xTitleX - p.left} py={p.xTitleY - p.top} text={p.xTitle} />} />
        <YAxis type="number" domain={p.yDomain} ticks={p.yTicks} allowDataOverflow
          width={p.yWidth} tickLine={false} tickSize={4} tickMargin={2} tick={tick}
          axisLine={{ stroke: '#000', strokeWidth: 3 }}
          label={<YTitle px={p.yTitleX - p.left} py={p.mTop + plotH / 2} text={p.yTitle} />} />
        {series.map((s) => (
          <Line key={s.c} data={toLine(s.d)} dataKey="y" type="linear" stroke={LINK[s.c]}
            strokeWidth={0.8} strokeOpacity={0.85} connectNulls={false}
            dot={makeDot(DOT[s.c], p.shape)} activeDot={false} isAnimationActive={false} />
        ))}
      </ComposedChart>
    </div>
  );
}

export default function App() {
  return (
    <div style={{ position: 'absolute', left: 0, top: 0, width: 786, height: 807, background: '#fff', fontFamily: FONT }}>
      {/* row A */}
      <Panel left={0} top={0} width={393} height={282} mTop={30} mRight={10} yWidth={51} xHeight={32}
        xDomain={[-2.2, 76.6]} yDomain={[1100, 2080]} xTicks={AGE_TICKS} yTicks={ICV_TICKS}
        ctrl={maleAgeIcvCtrl} mld={maleAgeIcvMld} ms={maleAgeIcvMs} shape="tri"
        xTitle="Age (y)" yTitle="ICV (mL)" xTitleX={222} xTitleY={275.5} yTitleX={13} />
      <Panel left={380} top={0} width={406} height={282} mTop={30} mRight={17} yWidth={53} xHeight={32}
        xDomain={[-2.3, 80.7]} yDomain={[1100, 2080]} xTicks={AGE_TICKS} yTicks={ICV_TICKS}
        ctrl={femaleAgeIcvCtrl} mld={femaleAgeIcvMld} ms={femaleAgeIcvMs} shape="circle"
        xTitle="Age (y)" yTitle="ICV (mL)" xTitleX={597} xTitleY={275.5} yTitleX={394} />
      {/* row B */}
      <Panel left={0} top={260} width={393} height={290} mTop={26.7} mRight={1.3} yWidth={50} xHeight={38}
        xDomain={[-2.32, 76.96]} yDomain={[0.885, 7.91]} xTicks={AGE_TICKS} yTicks={THK_TICKS}
        ctrl={maleAgeThkCtrl} mld={maleAgeThkMld} ms={maleAgeThkMs} shape="tri"
        xTitle="Age (y)" yTitle="Skull Thickness (mm)" xTitleX={223} xTitleY={537.5} yTitleX={32.5} />
      <Panel left={380} top={260} width={406} height={290} mTop={25} mRight={3} yWidth={54.7} xHeight={38.3}
        xDomain={[-1.55, 80.2]} yDomain={[0.86, 7.97]} xTicks={AGE_TICKS} yTicks={THK_TICKS}
        ctrl={femaleAgeThkCtrl} mld={femaleAgeThkMld} ms={femaleAgeThkMs} shape="circle"
        xTitle="Age (y)" yTitle="Skull Thickness (mm)" xTitleX={605} xTitleY={537.5} yTitleX={409} />
      {/* row C */}
      <Panel left={0} top={520} width={393} height={287} mTop={35} mRight={13} yWidth={49.3} xHeight={34.7}
        xDomain={[1.767, 7.248]} yDomain={[1099, 2083]} xTicks={THK_X_TICKS} yTicks={ICV_TICKS}
        ctrl={maleThkIcvCtrl} mld={maleThkIcvMld} ms={maleThkIcvMs} shape="tri"
        xTitle="Skull Thickness (mm)" yTitle="ICV (mL)" xTitleX={223} xTitleY={795.5} yTitleX={12} />
      <Panel left={380} top={520} width={406} height={287} mTop={35} mRight={13} yWidth={58} xHeight={34.7}
        xDomain={[1.696, 7.26]} yDomain={[1099, 2083]} xTicks={THK_X_TICKS} yTicks={ICV_TICKS}
        ctrl={femaleThkIcvCtrl} mld={femaleThkIcvMld} ms={femaleThkIcvMs} shape="circle"
        xTitle="Skull Thickness (mm)" yTitle="ICV (mL)" xTitleX={616} xTitleY={795.5} yTitleX={402} />

      <svg width={786} height={807} style={{ position: 'absolute', left: 0, top: 0, pointerEvents: 'none' }}>
        <g fontFamily={FONT} fontWeight="bold" fill="#111">
          <text x={78} y={23} fontSize={27}>Male</text>
          <text x={458} y={23} fontSize={27}>Female</text>
          <text x={20} y={37} fontSize={25}>A</text>
          <text x={22} y={292} fontSize={25}>B</text>
          <text x={25} y={555} fontSize={25}>C</text>
        </g>
        <g fontFamily={FONT} fill="#222">
          <text x={716} y={41} fontSize={10.5}>colour</text>
          <circle cx={721} cy={52} r={1.8} fill={DOT.ctrl} />
          <circle cx={721} cy={61} r={1.8} fill={DOT.mld} />
          <circle cx={721} cy={70} r={1.8} fill={DOT.ms} />
          <text x={730} y={55} fontSize={8.6}>Control</text>
          <text x={730} y={64} fontSize={8.6}>MLD</text>
          <text x={730} y={73} fontSize={8.6}>MS</text>
        </g>
      </svg>
    </div>
  );
}
